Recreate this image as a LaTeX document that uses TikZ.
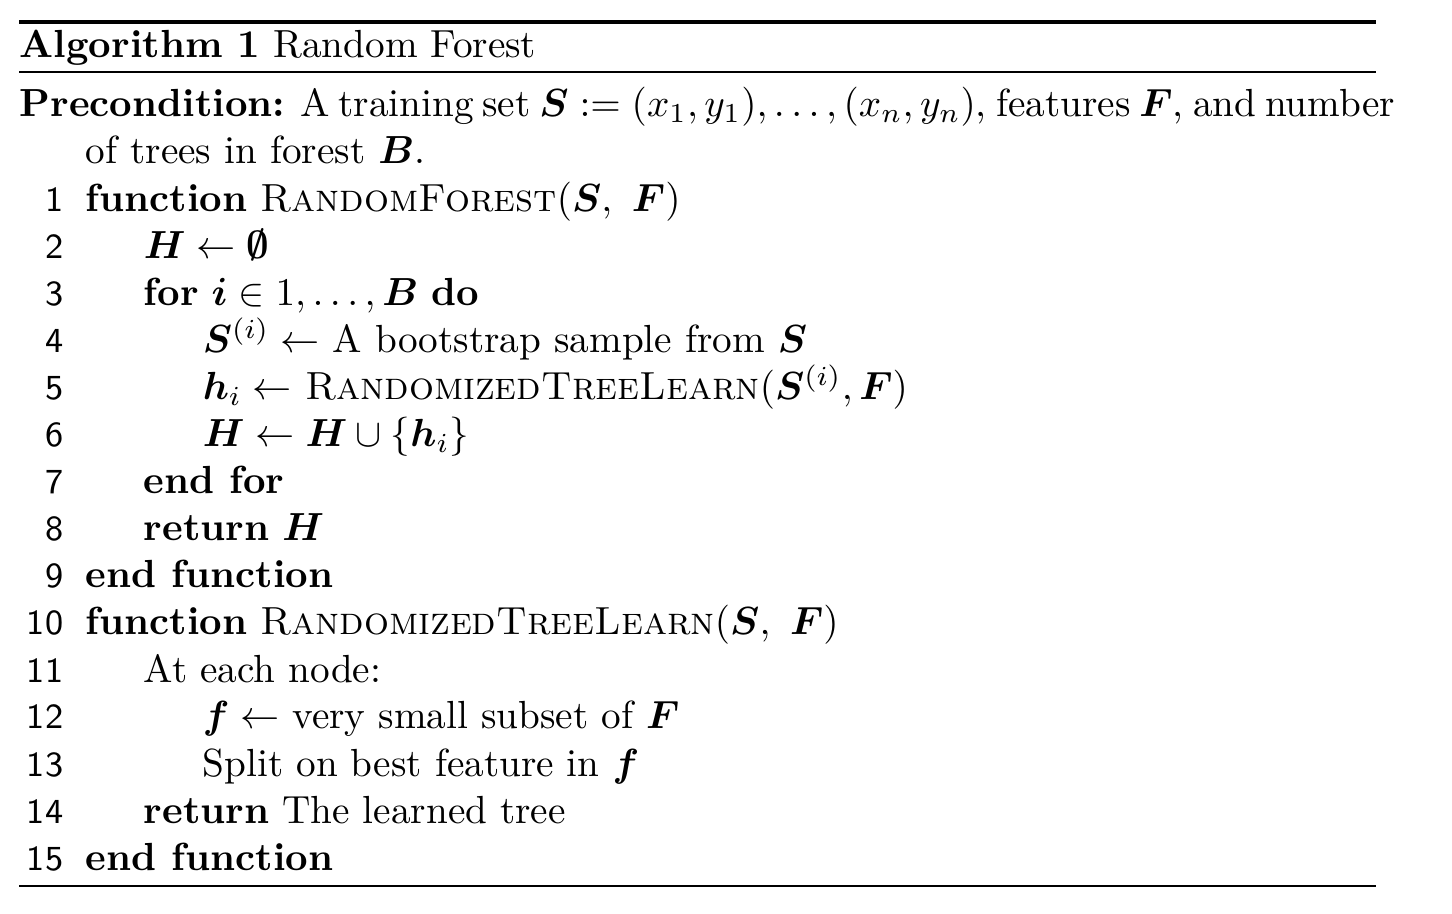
\documentclass[tikz,border=0pt]{standalone}
\usepackage{amsmath,amssymb,bm}
\tikzset{code/.style={anchor=base west, inner sep=0pt},
 num/.style={anchor=base east, inner sep=0pt, font=\sffamily\small}}
\begin{document}
\begin{tikzpicture}[x=0.255pt,y=-0.255pt]
\useasboundingbox (0,0) rectangle (1452,914);
\draw[line width=0.8pt] (19,22) -- (1376,22);
\draw[line width=0.4pt] (19,72) -- (1376,72);
\draw[line width=0.4pt] (19,886) -- (1376,886);
\node[code] (title) at (19,58) {\textbf{Algorithm 1} Random Forest};
\node[code] (pre1) at (19,117) {\makebox[346pt][s]{\textbf{Precondition:} A training set $\bm S := (x_1,y_1),\ldots,(x_n,y_n)$, features $\bm F$, and number}};
\node[code] (pre2) at (85,164) {of trees in forest $\bm B$.};
\foreach \k in {1,...,15}{\node[num] (n\k) at (64,{212+47*(\k-1)}) {\k};}
\node[code] (l1) at (85,212) {\textbf{function} \textsc{RandomForest}$(\bm S,\ \bm F)$};
\node[code] (l2) at (143,259) {$\bm H \leftarrow \bm\emptyset$};
\node[code] (l3) at (143,306) {\textbf{for} $\bm i \in 1,\ldots,\bm B$ \textbf{do}};
\node[code] (l4) at (202,353) {$\bm S^{(i)} \leftarrow$ A bootstrap sample from $\bm S$};
\node[code] (l5) at (202,400) {$\bm h_i \leftarrow$ \textsc{RandomizedTreeLearn}$(\bm S^{(i)},\bm F)$};
\node[code] (l6) at (202,447) {$\bm H \leftarrow \bm H \cup \{\bm h_i\}$};
\node[code] (l7) at (143,494) {\textbf{end for}};
\node[code] (l8) at (143,541) {\textbf{return} $\bm H$};
\node[code] (l9) at (85,588) {\textbf{end function}};
\node[code] (l10) at (85,635) {\textbf{function} \textsc{RandomizedTreeLearn}$(\bm S,\ \bm F)$};
\node[code] (l11) at (143,682) {At each node:};
\node[code] (l12) at (202,729) {$\bm f \leftarrow$ very small subset of $\bm F$};
\node[code] (l13) at (202,776) {Split on best feature in $\bm f$};
\node[code] (l14) at (143,823) {\textbf{return} The learned tree};
\node[code] (l15) at (85,870) {\textbf{end function}};
\end{tikzpicture}
\end{document}
